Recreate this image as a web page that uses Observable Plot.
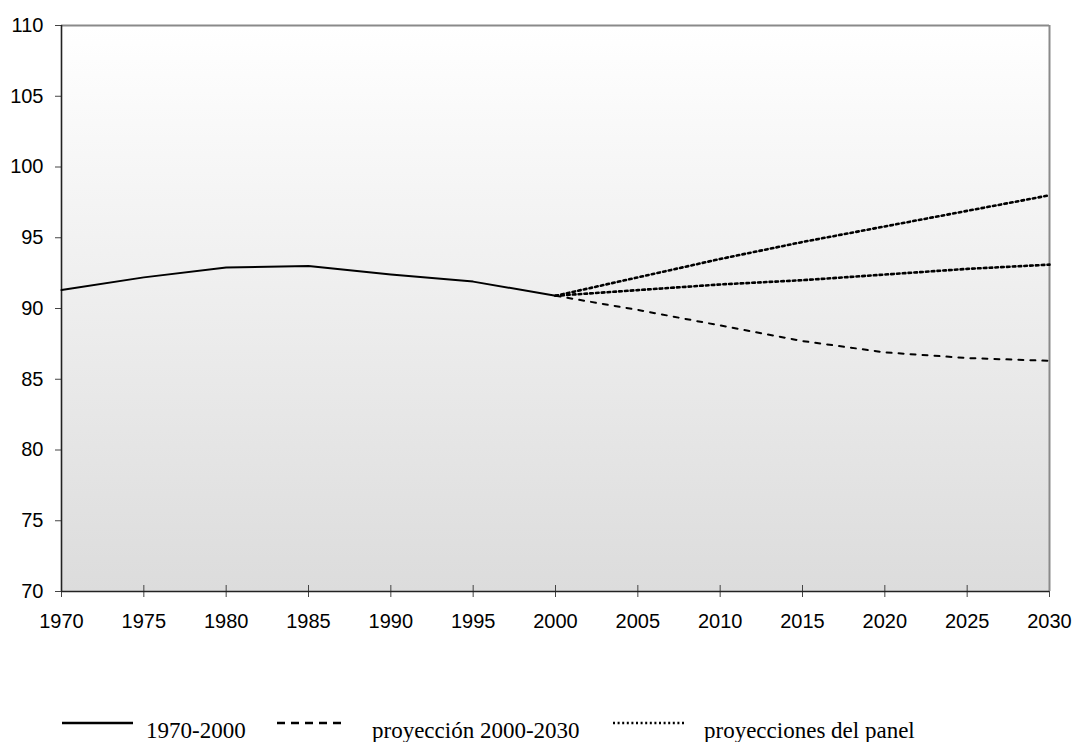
<!DOCTYPE html>
<html>
<head>
<meta charset="utf-8">
<script src="https://cdn.jsdelivr.net/npm/d3@7"></script>
<script src="https://cdn.jsdelivr.net/npm/@observablehq/plot@0.6"></script>
<style>
  html, body { margin: 0; padding: 0; background: #ffffff; }
  #chart { width: 1075px; height: 742px; position: relative; overflow: hidden; }
  #chart svg { display: block; }
  #chart svg.mainplot text { font-size: 20px !important; font-family: "Liberation Sans", Arial, sans-serif !important; fill: #000; }
</style>
</head>
<body>
<div id="chart"></div>
<script>
// ---- data ----
const histYears = [1970, 1975, 1980, 1985, 1990, 1995, 2000];
const histValues = [91.3, 92.2, 92.9, 93.0, 92.4, 91.9, 90.9];

const projYears = [2000, 2005, 2010, 2015, 2020, 2025, 2030];
const projValues = [90.9, 89.9, 88.8, 87.7, 86.9, 86.5, 86.3];
const panelHighValues = [90.9, 92.2, 93.5, 94.7, 95.8, 96.9, 98.0];
const panelLowValues = [90.9, 91.3, 91.7, 92.0, 92.4, 92.8, 93.1];

const xTicks = [1970, 1975, 1980, 1985, 1990, 1995, 2000, 2005, 2010, 2015, 2020, 2025, 2030];
const yTicks = [70, 75, 80, 85, 90, 95, 100, 105, 110];

const legendLabels = ["1970-2000", "proyección 2000-2030", "proyecciones del panel"];

// ---- tables ----
const hist = histYears.map((y, i) => ({year: y, value: histValues[i]}));
const proj = projYears.map((y, i) => ({year: y, value: projValues[i]}));
const panel = [
  ...projYears.map((y, i) => ({year: y, value: panelHighValues[i], s: "high"})),
  ...projYears.map((y, i) => ({year: y, value: panelLowValues[i], s: "low"}))
];

const font = "Liberation Sans, Arial, sans-serif";

const plot = Plot.plot({
  width: 1075,
  height: 640,
  marginLeft: 61,
  marginRight: 26,
  marginTop: 25,
  marginBottom: 49,
  className: "mainplot",
  style: {fontFamily: font, fontSize: "20px", color: "#000", background: "transparent"},
  x: {domain: [1970, 2030]},
  y: {domain: [70, 110]},
  marks: [
    Plot.frame({fill: "url(#bgGrad)", stroke: null}),
    // y axis
    Plot.axisY({ticks: yTicks, tickSize: 6, tickPadding: 12, tickFormat: "d", label: null, stroke: "#444"}),
    // x axis ticks crossing the axis line
    Plot.axisX({ticks: xTicks, tickSize: 12, dy: -6, tickFormat: () => "", label: null, stroke: "#444"}),
    // x axis labels
    Plot.axisX({ticks: xTicks, tickSize: 0, tickPadding: 22, tickFormat: "d", label: null}),
    // borders
    Plot.ruleY([110], {stroke: "#8a8a8a", strokeWidth: 2}),
    Plot.ruleX([2030], {stroke: "#8a8a8a", strokeWidth: 2}),
    Plot.ruleX([1970], {stroke: "#222", strokeWidth: 1.6}),
    Plot.ruleY([70], {stroke: "#222", strokeWidth: 1.6}),
    // series
    Plot.line(panel, {x: "year", y: "value", z: "s", stroke: "#000", strokeWidth: 2.6, strokeDasharray: "2.6,3.2"}),
    Plot.line(proj, {x: "year", y: "value", stroke: "#000", strokeWidth: 2, strokeDasharray: "5,7"}),
    Plot.line(hist, {x: "year", y: "value", stroke: "#000", strokeWidth: 2})
  ]
});

// gradient definition
const svgSel = d3.select(plot);
const defs = svgSel.insert("defs", ":first-child");
const grad = defs.append("linearGradient")
  .attr("id", "bgGrad").attr("x1", 0).attr("y1", 0).attr("x2", 0).attr("y2", 1);
grad.append("stop").attr("offset", "0%").attr("stop-color", "#ffffff");
grad.append("stop").attr("offset", "100%").attr("stop-color", "#dcdcdc");

document.getElementById("chart").appendChild(plot);

// ---- legend (below the plot) ----
const legend = d3.select("#chart").append("svg")
  .attr("width", 1075).attr("height", 102);
const items = [
  {label: legendLabels[0], x1: 62, x2: 133, tx: 146, dash: null, w: 2.5},
  {label: legendLabels[1], x1: 277, x2: 345, tx: 372, dash: "8,6", w: 2.5},
  {label: legendLabels[2], x1: 613, x2: 685, tx: 704, dash: "2,2.6", w: 2.5}
];
items.forEach(it => {
  const ln = legend.append("line")
    .attr("x1", it.x1).attr("x2", it.x2).attr("y1", 83).attr("y2", 83)
    .attr("stroke", "#000").attr("stroke-width", it.w);
  if (it.dash) ln.attr("stroke-dasharray", it.dash);
  legend.append("text")
    .attr("x", it.tx).attr("y", 98)
    .attr("font-family", "Liberation Serif, Times New Roman, serif")
    .attr("font-size", 23)
    .attr("fill", "#000")
    .text(it.label);
});
</script>
</body>
</html>
